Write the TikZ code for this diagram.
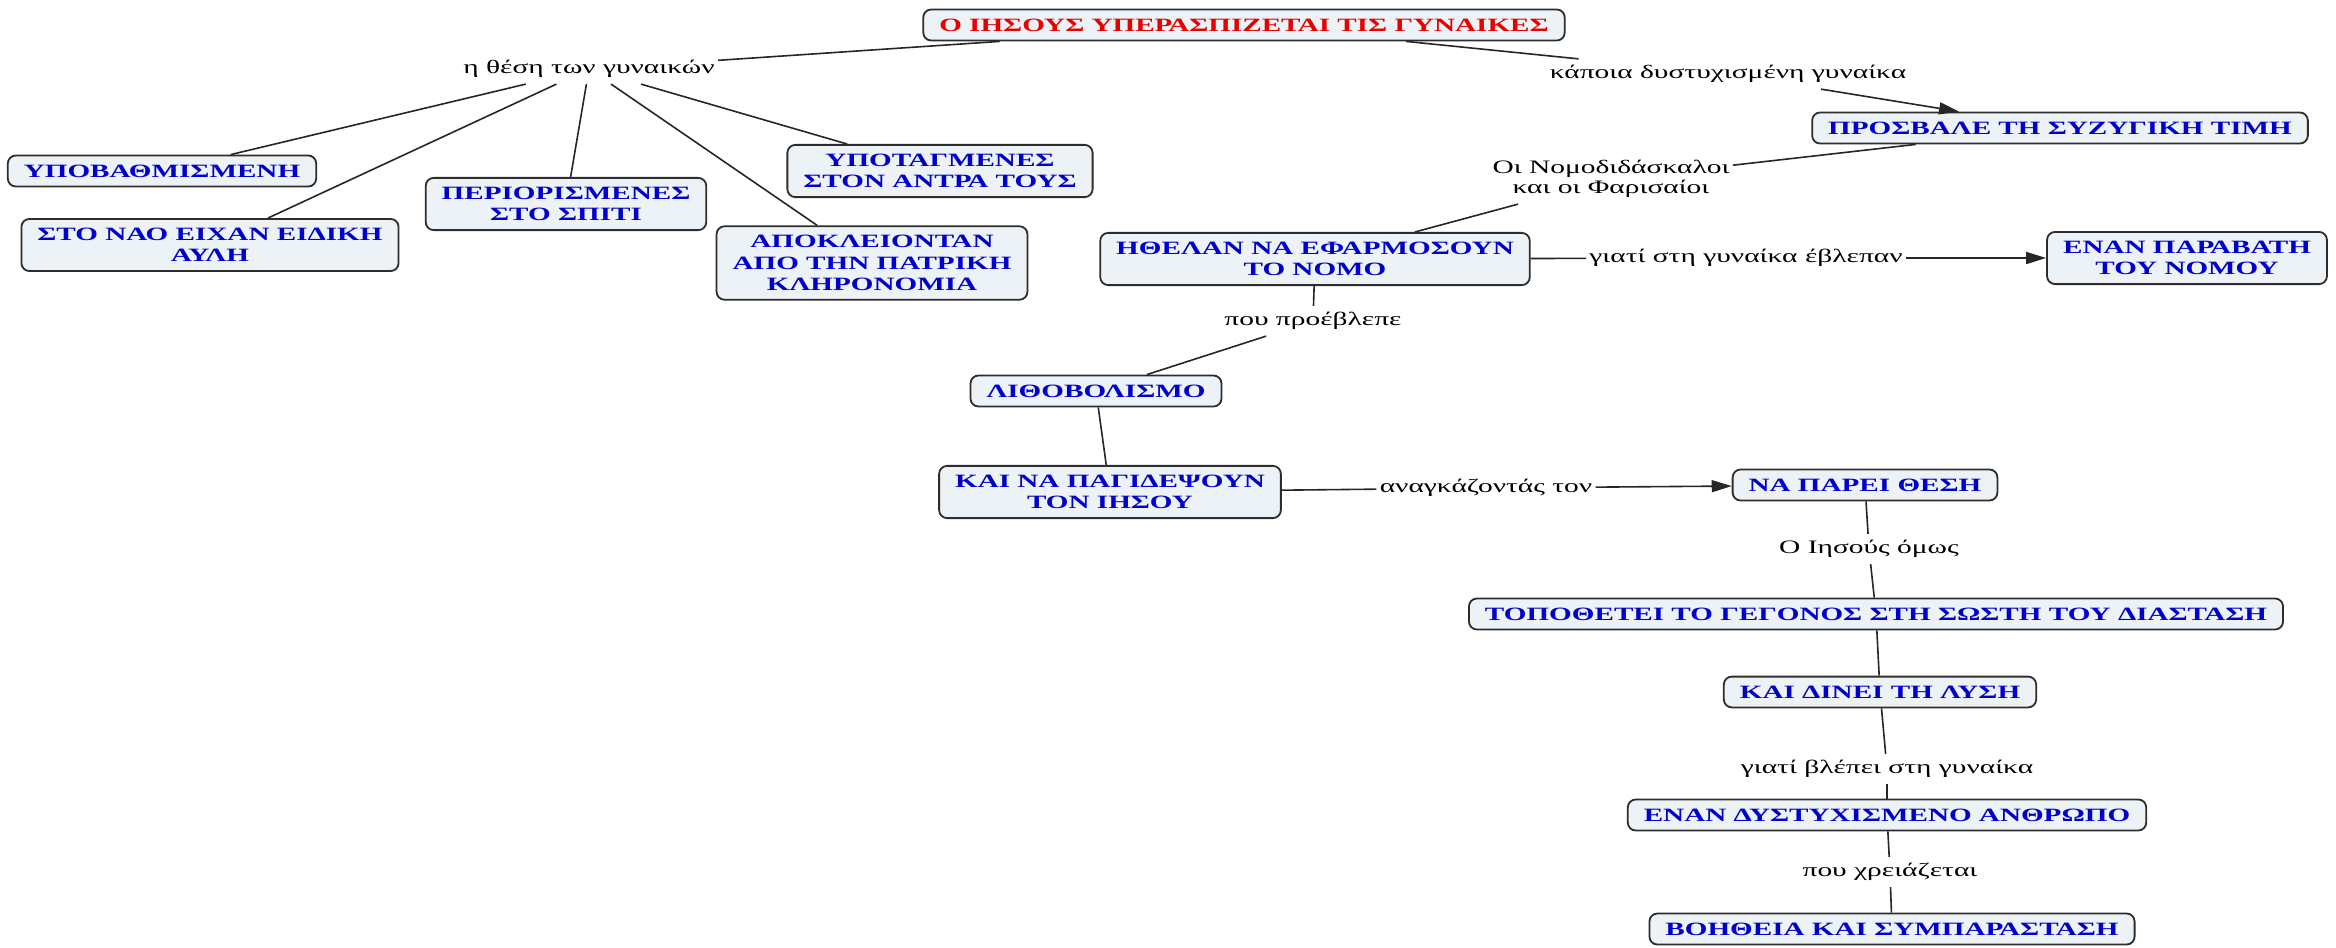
\documentclass[tikz,border=0pt]{standalone}
\usepackage{fontspec}
\setmainfont{Liberation Serif}[FakeStretch=1.55]
\usetikzlibrary{positioning, arrows.meta}
\definecolor{cmapfill}{RGB}{236,242,245}
\definecolor{cmapblue}{RGB}{0,0,204}
\definecolor{cmapred}{RGB}{230,0,0}
\definecolor{cmapline}{RGB}{45,45,45}
\tikzset{
  cbox/.style={draw=cmapline, line width=0.9pt, rounded corners=4pt, fill=cmapfill,
    text=cmapblue, font=\bfseries\fontsize{9.4}{10.6}\selectfont, align=center,
    inner xsep=8pt, inner ysep=4.6pt},
  linkword/.style={font=\fontsize{9.5}{10}\selectfont, align=center,
    inner xsep=1.5pt, inner ysep=3pt},
  cline/.style={draw=black!85, line width=0.8pt},
  carrow/.style={cline, -{Triangle[length=10pt,width=6pt]}}
}

\begin{document}
\begin{tikzpicture}[x=0.5pt, y=-0.5pt]
  \useasboundingbox (0,0) rectangle (2336,948);
  % concepts
  \node[cbox, text=cmapred] (titlos) at (1244,25) {Ο ΙΗΣΟΥΣ ΥΠΕΡΑΣΠΙΖΕΤΑΙ ΤΙΣ ΓΥΝΑΙΚΕΣ};
  \node[cbox] (ypov) at (162,171) {ΥΠΟΒΑΘΜΙΣΜΕΝΗ};
  \node[cbox] (naos) at (210,245) {ΣΤΟ ΝΑΟ ΕΙΧΑΝ ΕΙΔΙΚΗ\\ΑΥΛΗ};
  \node[cbox] (perior) at (566,204) {ΠΕΡΙΟΡΙΣΜΕΝΕΣ\\ΣΤΟ ΣΠΙΤΙ};
  \node[cbox] (ypot) at (940,171) {ΥΠΟΤΑΓΜΕΝΕΣ\\ΣΤΟΝ ΑΝΤΡΑ ΤΟΥΣ};
  \node[cbox] (apokl) at (872,263) {ΑΠΟΚΛΕΙΟΝΤΑΝ\\ΑΠΟ ΤΗΝ ΠΑΤΡΙΚΗ\\ΚΛΗΡΟΝΟΜΙΑ};
  \node[cbox] (prosv) at (2060,128) {ΠΡΟΣΒΑΛΕ ΤΗ ΣΥΖΥΓΙΚΗ ΤΙΜΗ};
  \node[cbox] (ithelan) at (1315,259) {ΗΘΕΛΑΝ ΝΑ ΕΦΑΡΜΟΣΟΥΝ\\ΤΟ ΝΟΜΟ};
  \node[cbox] (paravati) at (2187,258) {ΕΝΑΝ ΠΑΡΑΒΑΤΗ\\ΤΟΥ ΝΟΜΟΥ};
  \node[cbox] (lithov) at (1096,391) {ΛΙΘΟΒΟΛΙΣΜΟ};
  \node[cbox] (pagid) at (1110,492) {ΚΑΙ ΝΑ ΠΑΓΙΔΕΨΟΥΝ\\ΤΟΝ ΙΗΣΟΥ};
  \node[cbox] (thesi) at (1865,485) {ΝΑ ΠΑΡΕΙ ΘΕΣΗ};
  \node[cbox] (topoth) at (1876,614) {ΤΟΠΟΘΕΤΕΙ ΤΟ ΓΕΓΟΝΟΣ ΣΤΗ ΣΩΣΤΗ ΤΟΥ ΔΙΑΣΤΑΣΗ};
  \node[cbox] (dinei) at (1880,692) {ΚΑΙ ΔΙΝΕΙ ΤΗ ΛΥΣΗ};
  \node[cbox] (dystych) at (1887,815) {ΕΝΑΝ ΔΥΣΤΥΧΙΣΜΕΝΟ ΑΝΘΡΩΠΟ};
  \node[cbox] (voith) at (1892,929) {ΒΟΗΘΕΙΑ ΚΑΙ ΣΥΜΠΑΡΑΣΤΑΣΗ};
  % linking words
  \node[linkword] (lthesi) at (589,69) {η θέση των γυναικών};
  \node[linkword] (lkapoia) at (1728,74) {κάποια δυστυχισμένη γυναίκα};
  \node[linkword] (lnomod) at (1611,179) {Οι Νομοδιδάσκαλοι\\και οι Φαρισαίοι};
  \node[linkword] (lgiati) at (1746,258) {γιατί στη γυναίκα έβλεπαν};
  \node[linkword] (lpou) at (1313,321) {που προέβλεπε};
  \node[linkword] (lanagk) at (1486,488) {αναγκάζοντάς τον};
  \node[linkword] (liisous) at (1869,549) {Ο Ιησούς όμως};
  \node[linkword] (lvlepei) at (1887,769) {γιατί βλέπει στη γυναίκα};
  \node[linkword] (lxreiaz) at (1890,872) {που χρειάζεται};
  % connectors
  \draw[cline] (titlos) -- (lthesi);
  \foreach \c in {ypov, naos, perior, ypot, apokl}
    \draw[cline] (lthesi) -- (\c);
  \draw[cline] (titlos) -- (lkapoia);
  \draw[carrow] (lkapoia) -- (prosv);
  \draw[cline] (prosv) -- (lnomod);
  \draw[cline] (lnomod) -- (ithelan);
  \draw[cline] (ithelan) -- (lgiati);
  \draw[carrow] (lgiati) -- (paravati);
  \draw[cline] (ithelan) -- (lpou);
  \draw[cline] (lpou) -- (lithov);
  \draw[cline] (lithov) -- (pagid);
  \draw[cline] (pagid) -- (lanagk);
  \draw[carrow] (lanagk) -- (thesi);
  \draw[cline] (thesi) -- (liisous);
  \draw[cline] (liisous) -- (topoth);
  \draw[cline] (topoth) -- (dinei);
  \draw[cline] (dinei) -- (lvlepei);
  \draw[cline] (lvlepei) -- (dystych);
  \draw[cline] (dystych) -- (lxreiaz);
  \draw[cline] (lxreiaz) -- (voith);
\end{tikzpicture}
\end{document}
